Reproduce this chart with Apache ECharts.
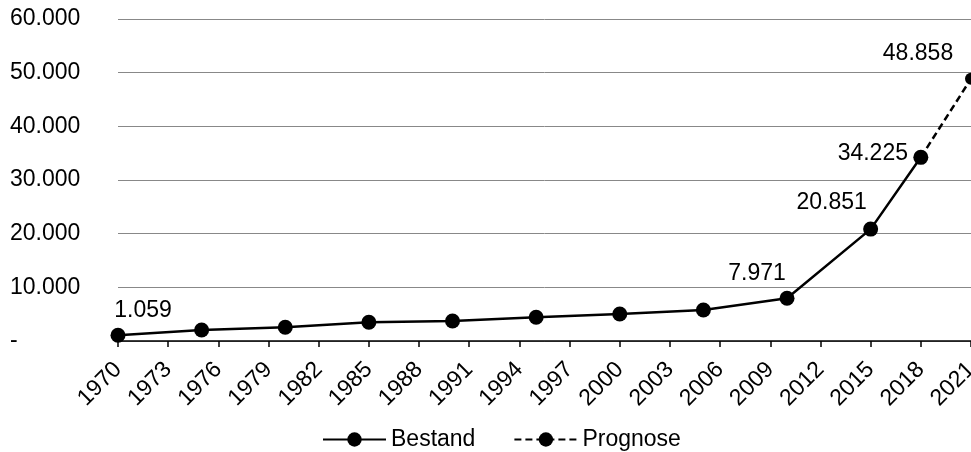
<!DOCTYPE html>
<html><head><meta charset="utf-8">
<script src="https://cdn.jsdelivr.net/npm/echarts@6/dist/echarts.min.js"></script>
<style>html,body{margin:0;padding:0;background:#fff}#c{width:971px;height:452px}</style>
</head><body><div id="c"></div>
<script>
var years = [1970, 1975, 1980, 1985, 1990, 1995, 2000, 2005, 2010, 2015, 2018];
var bestand = [1059, 2050, 2550, 3490, 3730, 4420, 5040, 5780, 7971, 20851, 34225];
var prognoseYears = [2018, 2021];
var prognose = [34225, 48858];
var labelled = {1970: [25, -25], 2010: [-30, -25], 2015: [-39, -26], 2018: [-48, -4]};
var prognoseLabel = {2021: [-53, -25]};

function fmt(v) {
  if (v === 0) return '-';
  return String(Math.round(v)).replace(/\B(?=(\d{3})+(?!\d))/g, '.');
}
var font = 'Liberation Sans, Arial, sans-serif';
var fs = 23;
function mk(xs, ys, lab) {
  return xs.map(function (x, i) {
    var d = {value: [x, ys[i]]};
    if (lab[x]) {
      d.label = {show: true, position: 'inside', offset: lab[x], formatter: function (p) { return fmt(p.value[1]); }};
    }
    return d;
  });
}
var chart = echarts.init(document.getElementById('c'));
chart.setOption({
  animation: false,
  textStyle: {fontFamily: font},
  grid: {left: 118, right: 0, top: 19, bottom: 111, containLabel: false, outerBoundsMode: 'none'},
  legend: {
    top: 423, left: 317, itemWidth: 63, itemHeight: 18, itemGap: 38,
    textStyle: {fontSize: fs, color: '#000', fontFamily: font},
    data: ['Bestand', 'Prognose']
  },
  xAxis: {
    type: 'value', min: 1970, max: 2021, interval: 3,
    axisLine: {show: true, lineStyle: {color: '#000', width: 1.5}},
    axisTick: {show: true, length: 6, lineStyle: {color: '#000', width: 1.5}},
    splitLine: {show: false},
    axisLabel: {rotate: 45, fontSize: fs, color: '#000', margin: 25, hideOverlap: false, formatter: function (v) { return String(v); }}
  },
  yAxis: {
    type: 'value', min: 0, max: 60000, interval: 10000,
    axisLine: {show: false}, axisTick: {show: false},
    splitLine: {lineStyle: {color: '#888', width: 1}},
    axisLabel: {fontSize: fs, color: '#000', margin: 108, align: 'left', formatter: fmt}
  },
  series: [
    {
      name: 'Prognose', type: 'line', z: 1,
      data: mk(prognoseYears, prognose, prognoseLabel),
      symbol: 'circle', symbolSize: 12, showAllSymbol: true,
      itemStyle: {color: '#000'},
      lineStyle: {color: '#000', width: 2.5, type: [7, 4]},
      label: {show: false, fontSize: fs, color: '#000'}
    },
    {
      name: 'Bestand', type: 'line', z: 2,
      data: mk(years, bestand, labelled),
      symbol: 'circle', symbolSize: 15, showAllSymbol: true,
      itemStyle: {color: '#000'},
      lineStyle: {color: '#000', width: 2.5},
      label: {show: false, fontSize: fs, color: '#000'}
    }
  ]
});
</script></body></html>
